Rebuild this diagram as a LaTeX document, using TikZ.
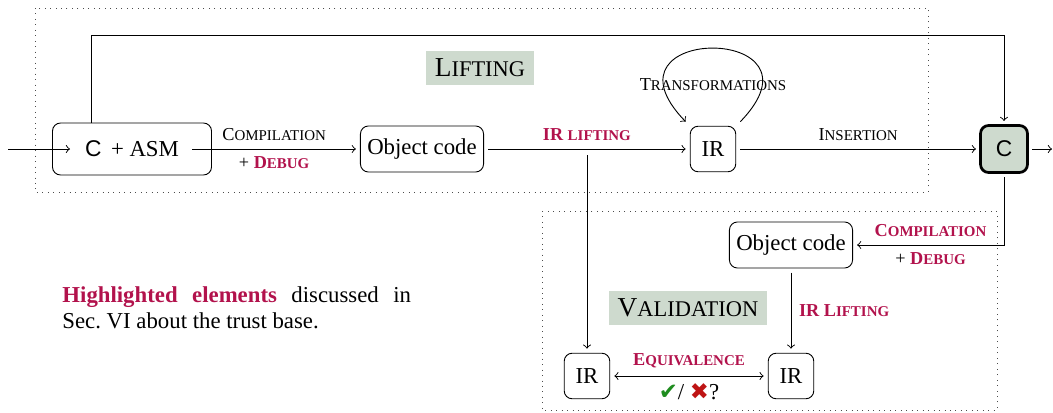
\documentclass[tikz,border=0pt]{standalone}
\usepackage{fontspec}
\setmainfont{Liberation Serif}
\setsansfont{Liberation Sans}
\newfontfamily\symbolfont{DejaVu Sans}

\definecolor{hlred}{RGB}{178,18,76}
\definecolor{phasebg}{RGB}{206,218,206}
\definecolor{okgreen}{RGB}{30,140,30}
\definecolor{kored}{RGB}{190,20,20}

\makeatletter
\newcommand\smc[1]{{\fontsize{\fpeval{0.82*\f@size}}{0}\selectfont #1}}
\makeatother
\newcommand\hl[1]{{\color{hlred}\bfseries #1}}

\begin{document}
\begin{tikzpicture}[x=0.4389pt, y=-0.4389pt,
    box/.style={draw, rounded corners=3.5pt, outer sep=2pt},
    lbl/.style={font=\footnotesize},
    phase/.style={fill=phasebg, font=\large, inner xsep=4pt, inner ysep=3.5pt}]

        \useasboundingbox (0,0) rectangle (1053,413);

        % phase frames
        \draw[dotted, black!70] (35,8) rectangle (928,192);
        \draw[dotted, black!70] (542,211) rectangle (997,410);

        \node[phase] (lifting) at (480,68) {L\smc{IFTING}};
        \node[phase] (validation) at (688,308) {V\smc{ALIDATION}};

        \node[inner xsep=5.7pt] (cad) at (132,149) {\textsf{C}\,\ + ASM};
        \node[box, outer sep=0pt, minimum width=69.8pt, minimum height=22.8pt] (cadbox) at (132,149) {};
        \node[box, minimum height=20.2pt, inner xsep=3pt] (obj) at (422,149) {Object code};
        \node[box, minimum size=20pt] (ir) at (713,149) {IR};
        \node[box, very thick, fill=phasebg, minimum size=20.6pt] (cout) at (1004,149) {\textsf{C}};
        \node[box, minimum height=20.2pt, inner xsep=3pt] (objb) at (791,245) {Object code};
        \node[box, minimum size=20pt] (irl) at (587,376) {IR};
        \node[box, minimum size=20pt] (irr) at (791,376) {IR};

        \coordinate (src) at (8,149);
        \coordinate (cadin) at (70,149);
        \coordinate (sink) at (1052,149);
        \coordinate (split) at (587,155);

        \draw[->] (src) -- (cadin);
        \draw[->] (cad) -- (obj)
            node[lbl, midway, above] {C\smc{OMPILATION}}
            node[lbl, midway, below] {+ \hl{D\smc{EBUG}}};
        \draw[->] (obj) -- (ir) node[lbl, midway, above] {\hl{IR \smc{LIFTING}}};
        \draw[->] (ir) -- (cout) node[lbl, midway, above] {I\smc{NSERTION}};
        \draw[->] (cout) -- (sink);

        % loop on the IR
        \draw[->] (ir.north east) .. controls +(95,-98) and +(-95,-98) .. (ir.north west);
        \node[lbl] (transf) at (713,85) {T\smc{RANSFORMATIONS}};

        \draw[->] ([xshift=-17.6pt]cadbox.north) -- ++(0,-88) -| (cout);

        \draw[->] (split) -- (irl);
        \draw[->] (cout) |- (objb)
            node[lbl, pos=0.75, above] {\hl{C\smc{OMPILATION}}}
            node[lbl, pos=0.75, below] {+ \hl{D\smc{EBUG}}};
        \draw[->] (objb) -- (irr) node[lbl, midway, right] {\hl{IR L\smc{IFTING}}};
        \draw[<->] (irl) -- (irr)
            node[lbl, midway, above] {\hl{E\smc{QUIVALENCE}}}
            node[midway, below] {{\symbolfont\color{okgreen}✔}/ {\symbolfont\color{kored}✖}?};

        \node[anchor=north west, text width=153pt, align=justify, inner sep=0pt,
            font=\fontsize{10}{11.5}\selectfont] (note) at (62,286)
            {\hl{Highlighted elements} discussed in Sec.~VI about the trust base.};

    \end{tikzpicture}
\end{document}
